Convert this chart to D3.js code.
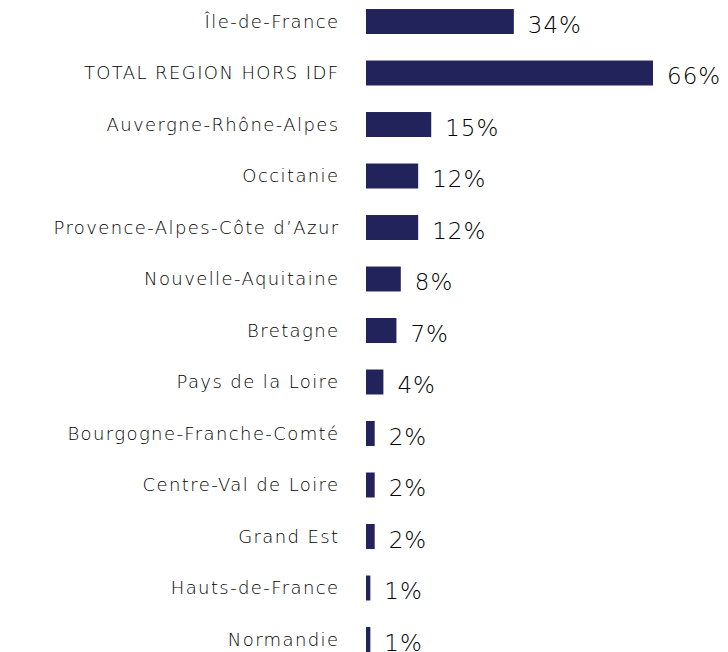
<!DOCTYPE html>
<html>
<head>
<meta charset="utf-8">
<script src="https://cdn.jsdelivr.net/npm/d3@7"></script>
<style>
  body { margin: 0; background: #fff; }
</style>
</head>
<body>
<svg id="chart"></svg>
<script>
const width = 728, height = 652;

// Data
const regions = [
  "Île-de-France",
  "TOTAL REGION HORS IDF",
  "Auvergne-Rhône-Alpes",
  "Occitanie",
  "Provence-Alpes-Côte d’Azur",
  "Nouvelle-Aquitaine",
  "Bretagne",
  "Pays de la Loire",
  "Bourgogne-Franche-Comté",
  "Centre-Val de Loire",
  "Grand Est",
  "Hauts-de-France",
  "Normandie"
];
const shares = [34, 66, 15, 12, 12, 8, 7, 4, 2, 2, 2, 1, 1];
const shareLabels = ["34%", "66%", "15%", "12%", "12%", "8%", "7%", "4%", "2%", "2%", "2%", "1%", "1%"];

const data = regions.map((r, i) => ({ region: r, value: shares[i], label: shareLabels[i] }));

const svg = d3.select("#chart")
    .attr("width", width)
    .attr("height", height);

// Scales
const xScale = d3.scaleLinear()
    .domain([0, 66])
    .range([366, 653]);

const yScale = d3.scaleBand()
    .domain(regions)
    .range([-17.5, 678.5])
    .padding(0.515);

// Category labels
svg.selectAll(".cat")
    .data(data)
    .enter().append("text")
    .attr("class", "cat")
    .attr("x", 339.5)
    .attr("y", d => yScale(d.region) + yScale.bandwidth() / 2)
    .attr("dy", "0.35em")
    .attr("text-anchor", "end")
    .style("font-family", "'DejaVu Sans', sans-serif")
    .style("font-weight", "200")
    .style("font-size", "18px")
    .style("letter-spacing", "1.4px")
    .style("fill", "#000")
    .text(d => d.region);

// Bars
svg.selectAll(".bar")
    .data(data)
    .enter().append("rect")
    .attr("class", "bar")
    .attr("x", xScale(0))
    .attr("y", d => yScale(d.region))
    .attr("width", d => xScale(d.value) - xScale(0))
    .attr("height", yScale.bandwidth())
    .attr("fill", "#23235c");

// Value labels
svg.selectAll(".val")
    .data(data)
    .enter().append("text")
    .attr("class", "val")
    .attr("x", d => xScale(d.value) + 14)
    .attr("y", d => yScale(d.region) + yScale.bandwidth() / 2 + 3)
    .attr("dy", "0.35em")
    .style("font-family", "'DejaVu Sans', sans-serif")
    .style("font-weight", "200")
    .style("font-size", "23px")
    .style("letter-spacing", "1px")
    .style("fill", "#000")
    .text(d => d.label);
</script>
</body>
</html>
